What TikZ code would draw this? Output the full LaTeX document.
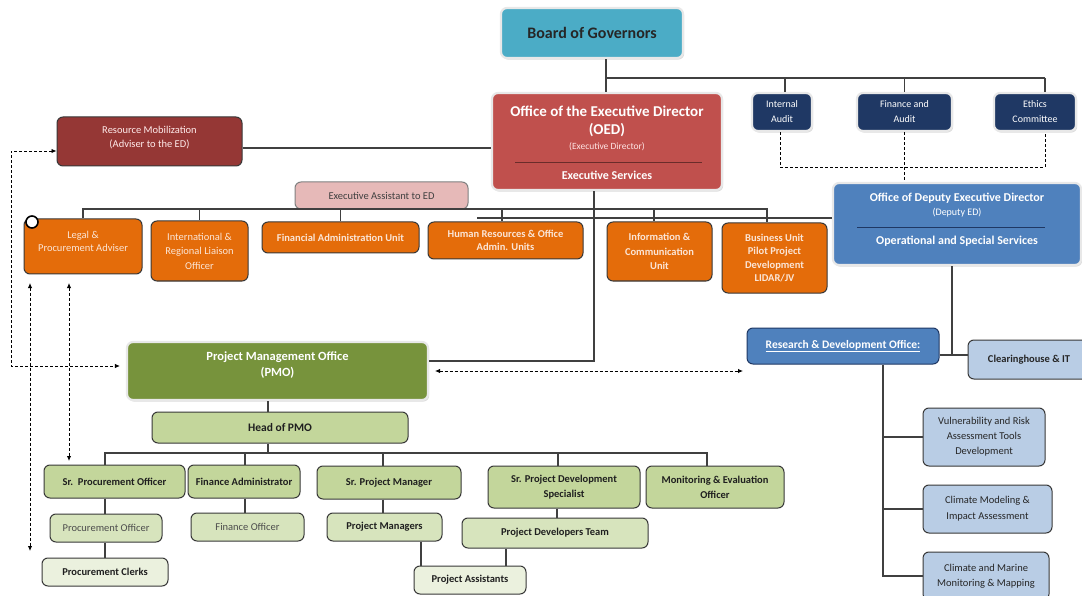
\documentclass[tikz,border=0pt]{standalone}
\usepackage{fontspec}
\setmainfont{Carlito}
\usetikzlibrary{arrows.meta,shadows}

\definecolor{cyanbox}{HTML}{4BACC6}
\definecolor{oedred}{HTML}{C0504D}
\definecolor{navy}{HTML}{1F3864}
\definecolor{depblue}{HTML}{4F81BD}
\definecolor{rmred}{HTML}{953735}
\definecolor{eapink}{HTML}{E6B9B8}
\definecolor{orng}{HTML}{E46C0A}
\definecolor{pmogreen}{HTML}{77933C}
\definecolor{lgA}{HTML}{C3D69B}
\definecolor{lgB}{HTML}{D7E4BD}
\definecolor{lgC}{HTML}{EBF1DE}
\definecolor{lblue}{HTML}{B9CDE5}
\definecolor{lnc}{HTML}{404040}
\definecolor{bdr}{HTML}{383838}
\definecolor{peach}{HTML}{FBE5D6}

\begin{document}
\begin{tikzpicture}[x=1pt,y=-1pt,
  box/.style={rounded corners=6pt, draw=bdr, line width=1pt, align=center, inner sep=1pt},
  glow/.style={box, draw=white!82!gray, line width=2.2pt,
    drop shadow={shadow xshift=1.2pt, shadow yshift=-1.6pt, fill=gray!60, opacity=.45}},
  txt/.style={align=center, inner sep=0pt},
  conn/.style={draw=lnc, line width=1.1pt},
  dashln/.style={draw=black, line width=0.9pt, dash pattern=on 3pt off 2pt},
  tip/.style={{Latex[length=5pt,width=4.5pt]}-{Latex[length=5pt,width=4.5pt]}},
  orB/.style={box, fill=orng, text=peach, font=\bfseries\fontsize{10.5}{13.5}\selectfont},
  orR/.style={box, fill=orng, text=peach, font=\fontsize{10.5}{14.5}\selectfont},
  grA/.style={box, fill=lgA, text=black!88, font=\bfseries\fontsize{10.5}{15}\selectfont},
  grB/.style={box, fill=lgB, text=black!88, font=\bfseries\fontsize{10.5}{13}\selectfont},
  grBr/.style={box, fill=lgB, text=black!70, font=\fontsize{10.5}{13}\selectfont},
  grC/.style={box, fill=lgC, text=black!88, font=\bfseries\fontsize{10.5}{13}\selectfont},
  aud/.style={glow, fill=navy, text=white, font=\fontsize{10}{15}\selectfont},
  rdsub/.style={box, fill=lblue, text=black!85, font=\fontsize{10.5}{15}\selectfont},
]
\useasboundingbox (0,0) rectangle (1082,596);
\fill[white] (0,0) rectangle (1082,596);

% ---------- governing level ----------
\node[glow, fill=cyanbox, minimum width=182, minimum height=50,
      text=black!85, font=\bfseries\fontsize{16}{19}\selectfont] (bog) at (592,33) {Board of Governors};

\node[aud, minimum width=60, minimum height=38] (ia) at (782,112) {Internal\\Audit};
\node[aud, minimum width=95, minimum height=38] (fa) at (904.5,112) {Finance and\\Audit};
\node[aud, minimum width=82, minimum height=38] (ec) at (1035,112) {Ethics\\Committee};

% Office of the Executive Director
\node[glow, fill=oedred, minimum width=230, minimum height=97] (oed) at (607,141.5) {};
\node[txt, text=white, font=\bfseries\fontsize{15}{18}\selectfont] (oedT) at (607,121) {Office of the Executive Director\\(OED)};
\node[txt, text=white!90!red, font=\fontsize{9.5}{11}\selectfont] (oedS) at (607,147) {(Executive Director)};
\draw[draw=oedred!55!black, line width=0.8pt] (515,162) -- (702,162);
\node[txt, text=white, font=\bfseries\fontsize{12}{14}\selectfont] (oedX) at (607,175) {Executive Services};

% Office of the Deputy Executive Director
\node[glow, fill=depblue, minimum width=248, minimum height=82] (dep) at (957,224) {};
\node[txt, text=white, font=\bfseries\fontsize{12}{14}\selectfont] (depT) at (957,198) {Office of Deputy Executive Director};
\node[txt, text=white, font=\fontsize{10}{12}\selectfont] (depS) at (957,213) {(Deputy ED)};
\draw[draw=navy, line width=0.8pt] (857,227) -- (1045,227);
\node[txt, text=white, font=\bfseries\fontsize{12}{14}\selectfont] (depX) at (957,241) {Operational and Special Services};

% adviser and assistant
\node[box, fill=rmred, minimum width=185, minimum height=49] (rm) at (149.5,141.5) {};
\node[txt, text=white!92!red, font=\fontsize{10.5}{13.5}\selectfont] (rmT) at (149.5,137.5) {Resource Mobilization\\(Adviser to the ED)};
\node[box, fill=eapink, draw=gray, minimum width=173, minimum height=27,
      text=black!75, font=\fontsize{10.5}{13}\selectfont] (ea) at (381.5,195.5) {Executive Assistant to ED};

% ---------- units under the OED ----------
\node[orR, minimum width=118, minimum height=55] (legal) at (83,246.5) {};
\node[txt, text=peach, font=\fontsize{10.5}{13}\selectfont] (legalT) at (83,241.5) {Legal \&\\Procurement Adviser};
\node[circle, draw=black, line width=1.6pt, fill=white, minimum size=12, inner sep=0pt] (knob) at (32,222) {};
\node[orR, minimum width=97, minimum height=60] (intl) at (199.5,251) {International \&\\Regional Liaison\\Officer};
\node[orB, minimum width=157, minimum height=31] (fau) at (340.5,237.5) {Financial Administration Unit};
\node[orB, minimum width=155, minimum height=37] (hr) at (505.5,240.5) {Human Resources \& Office\\Admin. Units};
\node[orB, minimum width=105, minimum height=59, font=\bfseries\fontsize{10.5}{14.5}\selectfont] (icu) at (659.5,251.5) {Information \&\\Communication\\Unit};
\node[orB, minimum width=105, minimum height=70] (bu) at (774.5,258) {Business Unit\\Pilot Project\\Development\\LIDAR/JV};

% ---------- research and development ----------
\node[box, fill=depblue, draw=navy, minimum width=192, minimum height=36, text=white,
      font=\bfseries\fontsize{11.5}{14}\selectfont] (rd) at (843,346) {\underline{Research \& Development Office:}};
\node[box, fill=lblue, minimum width=122, minimum height=39, text=black!85,
      font=\bfseries\fontsize{10.5}{13}\selectfont] (ch) at (1029,359.5) {Clearinghouse \& IT};
\node[rdsub, minimum width=122, minimum height=58] (vul) at (984,437) {Vulnerability and Risk\\Assessment Tools\\Development};
\node[rdsub, minimum width=129, minimum height=48, font=\fontsize{10.5}{16}\selectfont] (cm) at (987.5,509) {Climate Modeling \&\\Impact Assessment};
\node[rdsub, minimum width=126, minimum height=48] (cmm) at (986,576) {Climate and Marine\\Monitoring \& Mapping};

% ---------- project management office ----------
\node[glow, fill=pmogreen, minimum width=301, minimum height=58] (pmo) at (277.5,371) {};
\node[txt, text=white, font=\bfseries\fontsize{12.5}{16}\selectfont] (pmoT) at (277.5,365) {Project Management Office\\(PMO)};
\node[box, fill=lgA, minimum width=256, minimum height=31, text=black!88,
      font=\bfseries\fontsize{11.5}{14}\selectfont] (head) at (280,427.5) {Head of PMO};

\node[grA, minimum width=141, minimum height=33] (spo) at (114.5,481.5) {Sr.\ \ Procurement Officer};
\node[grA, minimum width=112, minimum height=33] (fadm) at (244,481.5) {Finance Administrator};
\node[grA, minimum width=144, minimum height=33] (spm) at (389,482.5) {Sr. Project Manager};
\node[grA, minimum width=152, minimum height=42] (spd) at (564,487) {Sr. Project Development\\Specialist};
\node[grA, minimum width=138, minimum height=42] (me) at (715,487) {Monitoring \& Evaluation\\Officer};

\node[grBr, minimum width=112, minimum height=28] (po) at (106,528) {Procurement Officer};
\node[grBr, minimum width=113, minimum height=28] (fo) at (247.5,527) {Finance Officer};
\node[grB, minimum width=115, minimum height=28] (pms) at (384.5,527) {Project Managers};
\node[grB, minimum width=186, minimum height=30] (pdt) at (555,533) {Project Developers Team};
\node[grC, minimum width=126, minimum height=28] (pc) at (105,572) {Procurement Clerks};
\node[grC, minimum width=112, minimum height=28] (pa) at (470,580) {Project Assistants};

% ---------- reporting lines ----------
\coordinate (gbar) at (606,78);
\draw[conn] (bog.south -| gbar) -- (oed.north -| gbar);
\draw[conn] (gbar) -- (1045,78);
\draw[conn] (785,78) -- (ia.north -| 785,0);
\draw[conn] (fa.north |- gbar) -- (fa.north);
\draw[conn] (1045,78) -- (ec.north -| 1045,0);

% audit committees to the deputy office
\coordinate (dqL) at (780,167);
\coordinate (dqR) at (1045,167);
\draw[dashln] (ia.south -| dqL) -- (dqL) -- (dqR) -- (ec.south -| dqR);
\draw[dashln] (fa.south -| 904,0) -- (dep.north -| 904,0);

% adviser line
\draw[conn] (rm.east |- 0,148) -- (oed.west |- 0,148);

% unit bar under the executive office
\coordinate (ubar) at (767,209);
\draw[conn] (legal.north) |- (ubar) -- (ubar |- bu.north);
\draw[conn] (intl.north |- ubar) -- (intl.north);
\draw[conn] (fau.north |- ubar) -- (fau.north);
\draw[conn] (502,209) -- (hr.north -| 502,0);
\draw[conn] (654,209) -- (icu.north -| 654,0);
\coordinate (hrtick) at (477,218);
\draw[conn] (dep.west |- hrtick) -- (hrtick);

% executive office down to the PMO
\draw[conn] (oed.south -| 594,0) |- (pmo.east |- 0,361);

% deputy office to research units
\draw[conn] (dep.south -| 952,0) -- (952,355);
\draw[conn] (rd.east |- 0,355) -- (ch.west |- 0,355);
\draw[conn] (rd.south -| 883,0) |- (cmm.west);
\draw[conn] (vul.west -| 883,0) -- (vul.west);
\draw[conn] (cm.west -| 883,0) -- (cm.west);

% PMO tree
\draw[conn] (pmo.south -| 268,0) -- (head.north -| 268,0);
\coordinate (pbL) at (105,453);
\coordinate (pbR) at (707,453);
\draw[conn] (head.south -| 268,0) -- (268,453);
\draw[conn] (pbL |- spo.north) -- (pbL) -- (pbR) -- (pbR |- me.north);
\draw[conn] (245,453) -- (fadm.north -| 245,0);
\draw[conn] (383,453) -- (spm.north -| 383,0);
\draw[conn] (558,453) -- (spd.north -| 558,0);
\draw[conn] (spo.south -| 105,0) -- (po.north -| 105,0);
\draw[conn] (po.south -| 105,0) -- (pc.north -| 105,0);
\draw[conn] (fadm.south -| 245,0) -- (fo.north -| 245,0);
\draw[conn] (spm.south -| 383,0) -- (pms.north -| 383,0);
\draw[conn] (spd.south -| 557,0) -- (pdt.north -| 557,0);
\draw[conn] (pms.south -| 421,0) -- (pa.north -| 421,0);
\draw[conn] (pdt.south -| 506,0) -- (pa.north -| 506,0);

% ---------- dashed coordination arrows ----------
\coordinate (lq1) at (11,151);
\coordinate (lq2) at (11,366);
\draw[dashln, tip] (rm.west |- lq1) -- (lq1) -- (lq2) -- ([xshift=-6pt]pmo.west |- lq2);
\coordinate (va1) at (30,283);
\coordinate (va2) at (30,551);
\draw[dashln, tip] (va1) -- (va2);
\coordinate (vb1) at (69,283);
\coordinate (vb2) at (69,461);
\draw[dashln, tip] (vb1) -- (vb2);
\coordinate (ha1) at (435,371);
\coordinate (ha2) at (743,371);
\draw[dashln, tip] (ha1) -- (ha2);
\end{tikzpicture}
\end{document}
